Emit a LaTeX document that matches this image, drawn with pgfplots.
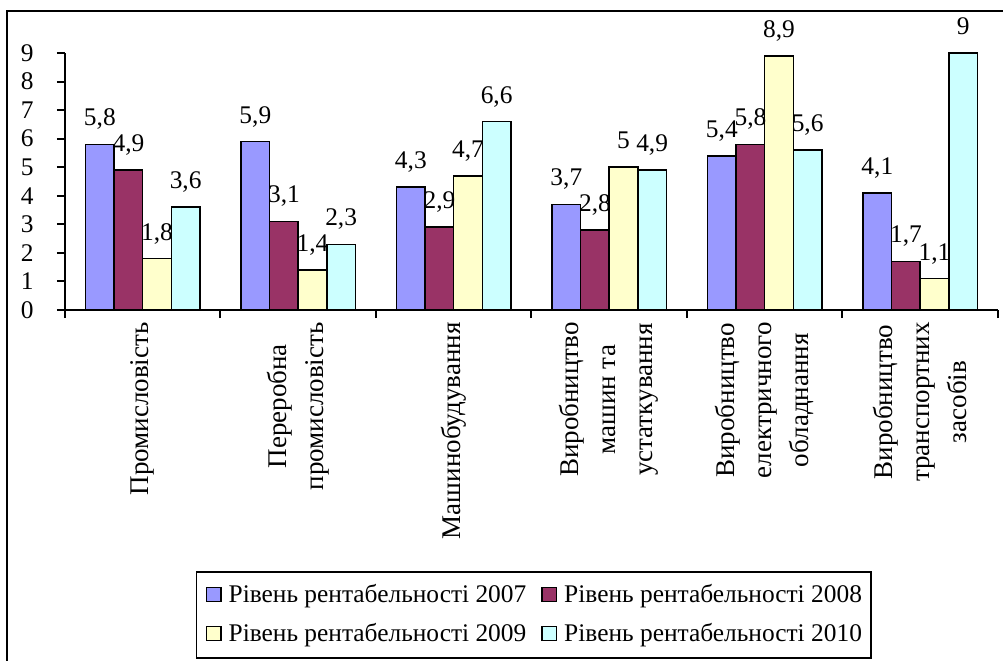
\documentclass[border=0pt]{standalone}
\usepackage{fontspec}
\setmainfont{Liberation Serif}
\usepackage{pgfplots}
\pgfplotsset{compat=1.18}
\definecolor{c07}{HTML}{9999FF}
\definecolor{c08}{HTML}{993366}
\definecolor{c09}{HTML}{FFFFCC}
\definecolor{c10}{HTML}{CCFFFF}
\newcommand\fs{\fontsize{12.7}{17.5}\selectfont}
\newcommand\fc{\fontsize{13.5}{18.5}\selectfont}
\begin{document}
\begin{tikzpicture}
\useasboundingbox (-32.5pt,-175pt) rectangle (469pt,155pt);
\draw[line width=1pt] (-29pt,-200pt) rectangle (490pt,149.5pt);
\begin{axis}[
  at={(0pt,0pt)}, anchor=south west,
  scale only axis, width=466.5pt, height=128.5pt,
  xmin=-0.5, xmax=5.5, ymin=0, ymax=9,
  clip=false,
  axis x line*=bottom, axis y line*=left,
  axis line style={line width=1pt, black},
  ybar=0pt, bar width=14.3pt,
  ytick={0,...,9},
  xtick={-0.5,0.5,...,5.5}, xticklabels={},
  extra x ticks={0,...,5},
  extra x tick labels={Промисловість,{Переробна\\промисловість},Машинобудування,{Виробництво\\машин та\\устаткування},{Виробництво\\електричного\\обладнання},{Виробництво\\транспортних\\засобів}},
  extra x tick style={major tick length=0pt},
  xticklabel style={yshift=-6pt, rotate=90, anchor=east, align=center, font=\fc, inner sep=0pt},
  yticklabel style={anchor=east, font=\fs, inner sep=0pt, xshift=-11.5pt},
  tick align=outside, major tick length=4pt,
  tick style={line width=1pt, black},
  /pgf/number format/use comma,
  /pgf/number format/assume math mode=true,
  nodes near coords,
  every node near coord/.append style={font=\fs, anchor=base, inner sep=0pt, yshift=9.25pt, black},
  legend columns=2, legend cell align=left,
  legend style={at={(0.1404,-1.0156)}, anchor=north west, draw=black, line width=0.75pt, font=\fs,
    inner xsep=4.5pt, inner ysep=5.5pt, row sep=7pt,
    nodes={inner sep=0pt, text height=10pt, text depth=2.5pt},
    /tikz/every odd column/.append style={column sep=3.5pt},
    /tikz/every even column/.append style={column sep=7.5pt}},
  legend image code/.code={\draw[#1, line width=0.75pt] (0pt,-3.2pt) rectangle (7.2pt,4pt);},
]
\addplot[fill=c07, draw=black, line width=0.75pt] coordinates {(0,5.8) (1,5.9) (2,4.3) (3,3.7) (4,5.4) (5,4.1)};
\addplot[fill=c08, draw=black, line width=0.75pt] coordinates {(0,4.9) (1,3.1) (2,2.9) (3,2.8) (4,5.8) (5,1.7)};
\addplot[fill=c09, draw=black, line width=0.75pt] coordinates {(0,1.8) (1,1.4) (2,4.7) (3,5) (4,8.9) (5,1.1)};
\addplot[fill=c10, draw=black, line width=0.75pt] coordinates {(0,3.6) (1,2.3) (2,6.6) (3,4.9) (4,5.6) (5,9)};
\legend{Рівень рентабельності 2007,Рівень рентабельності 2008,Рівень рентабельності 2009,Рівень рентабельності 2010}
\end{axis}
\end{tikzpicture}
\end{document}
